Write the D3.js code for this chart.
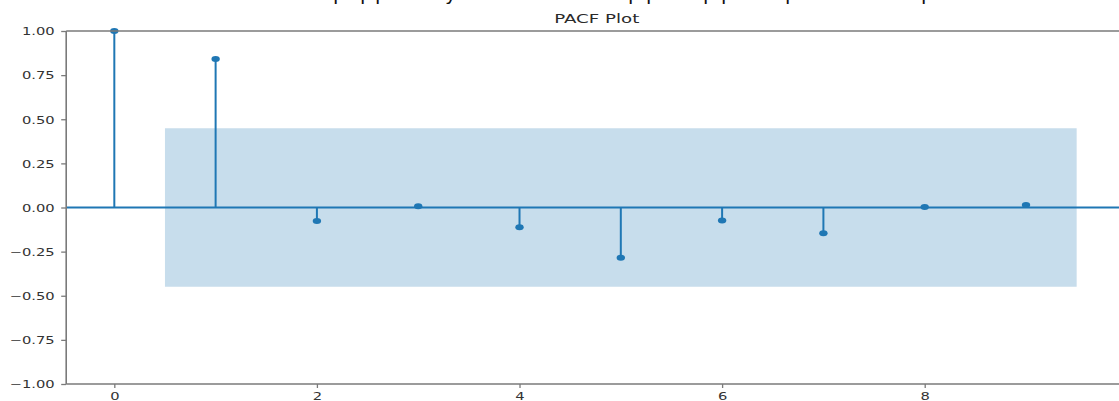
<!DOCTYPE html>
<html>
<head>
<meta charset="utf-8">
<script src="https://cdn.jsdelivr.net/npm/d3@7"></script>
<style>
  html, body { margin: 0; padding: 0; background: #fff; overflow: hidden; }
  svg { display: block; }
</style>
</head>
<body>
<script>
// ---- data ----
const lags = [0, 1, 2, 3, 4, 5, 6, 7, 8, 9];
const pacfValues = [1.0, 0.841, -0.076, 0.007, -0.112, -0.284, -0.073, -0.146, 0.003, 0.014];
const confBand = [-0.449, 0.449];          // shaded confidence interval
const confLagRange = [0.5, 9.5];           // lag extent of the band
const yTicks = [1.0, 0.75, 0.5, 0.25, 0.0, -0.25, -0.5, -0.75, -1.0];
const xTicks = [0, 2, 4, 6, 8];
const titleText = "PACF Plot";
// cut-off glyph fragments of the line of text above the figure
const topGlyphs = [
  {t: "p", x: 335}, {t: "p", x: 362}, {t: "p", x: 377}, {t: "y", x: 447},
  {t: "p", x: 630}, {t: "p", x: 648}, {t: "p", x: 705}, {t: "p", x: 723},
  {t: "p", x: 787}, {t: "p", x: 923}
];

// ---- layout ----
const W = 1119, H = 401;
const SX = 1.4; // horizontal stretch of the source image
const mLeft = 66.2, mRight = 1127.3, mTop = 31, mBottom = 384;
const blue = "#1f77b4";
const textCol = "#333333";
const font = "'DejaVu Sans', sans-serif";

const svg = d3.select("body").append("svg")
  .attr("width", W).attr("height", H);

const x = d3.scaleLinear().domain([-0.475, 10]).range([mLeft, mRight]);
const y = d3.scaleLinear().domain([-1, 1]).range([mBottom, mTop]);

// confidence band
svg.append("rect")
  .attr("x", x(confLagRange[0]))
  .attr("y", y(confBand[1]))
  .attr("width", x(confLagRange[1]) - x(confLagRange[0]))
  .attr("height", y(confBand[0]) - y(confBand[1]))
  .attr("fill", blue).attr("fill-opacity", 0.25);

// zero line
svg.append("line")
  .attr("x1", mLeft).attr("x2", mRight)
  .attr("y1", y(0)).attr("y2", y(0))
  .attr("stroke", blue).attr("stroke-width", 1.8);

// stems
svg.selectAll("line.stem").data(lags).join("line")
  .attr("class", "stem")
  .attr("x1", d => x(d)).attr("x2", d => x(d))
  .attr("y1", y(0)).attr("y2", (d, i) => y(pacfValues[i]))
  .attr("stroke", blue).attr("stroke-width", 2);

// markers
svg.selectAll("ellipse.mk").data(lags).join("ellipse")
  .attr("class", "mk")
  .attr("cx", d => x(d)).attr("cy", (d, i) => y(pacfValues[i]))
  .attr("rx", 4.2).attr("ry", 3)
  .attr("fill", blue);

// spines
const spine = "#7a7a7a";
svg.append("line").attr("x1", mLeft).attr("x2", mRight).attr("y1", mTop).attr("y2", mTop)
  .attr("stroke", spine).attr("stroke-width", 1.6);
svg.append("line").attr("x1", mLeft).attr("x2", mRight).attr("y1", mBottom).attr("y2", mBottom)
  .attr("stroke", spine).attr("stroke-width", 1.6);
svg.append("line").attr("x1", mLeft).attr("x2", mLeft).attr("y1", mTop).attr("y2", mBottom)
  .attr("stroke", spine).attr("stroke-width", 1.6);

// y axis
const yAxis = svg.append("g").attr("transform", `translate(${mLeft},0)`)
  .call(d3.axisLeft(y).tickValues(yTicks).tickSize(5).tickPadding(0)
    .tickFormat(d => d3.format(".2f")(d).replace("-", "\u2212")));
yAxis.select(".domain").remove();
yAxis.selectAll(".tick line").attr("stroke", spine).attr("stroke-width", 1.3);
yAxis.selectAll(".tick text")
  .attr("x", -11.5 / SX).attr("dy", "0.36em")
  .attr("transform", `scale(${SX},1)`)
  .attr("fill", textCol).attr("font-family", font).attr("font-size", 10.5);

// x axis
const xAxis = svg.append("g").attr("transform", `translate(0,${mBottom})`)
  .call(d3.axisBottom(x).tickValues(xTicks).tickSize(4).tickPadding(0)
    .tickFormat(d3.format("d")));
xAxis.select(".domain").remove();
xAxis.selectAll(".tick line").attr("stroke", spine).attr("stroke-width", 1.3);
xAxis.selectAll(".tick text")
  .attr("y", 16.5).attr("dy", 0)
  .attr("transform", `scale(${SX},1)`)
  .attr("fill", textCol).attr("font-family", font).attr("font-size", 10.5);

// title
svg.append("g").attr("transform", `translate(${(mLeft + mRight) / 2},22.5) scale(${SX},1)`)
  .append("text")
  .attr("text-anchor", "middle")
  .attr("fill", "#2a2a2a").attr("font-family", font).attr("font-size", 13)
  .text(titleText);

// cut-off text line at the very top (only descenders visible)
svg.selectAll("g.glyph").data(topGlyphs).join("g")
  .attr("class", "glyph")
  .attr("transform", d => `translate(${d.x - 2},0) scale(1.1,1)`)
  .append("text")
  .attr("fill", "#111").attr("font-family", font).attr("font-size", 18)
  .text(d => d.t);
</script>
</body>
</html>
